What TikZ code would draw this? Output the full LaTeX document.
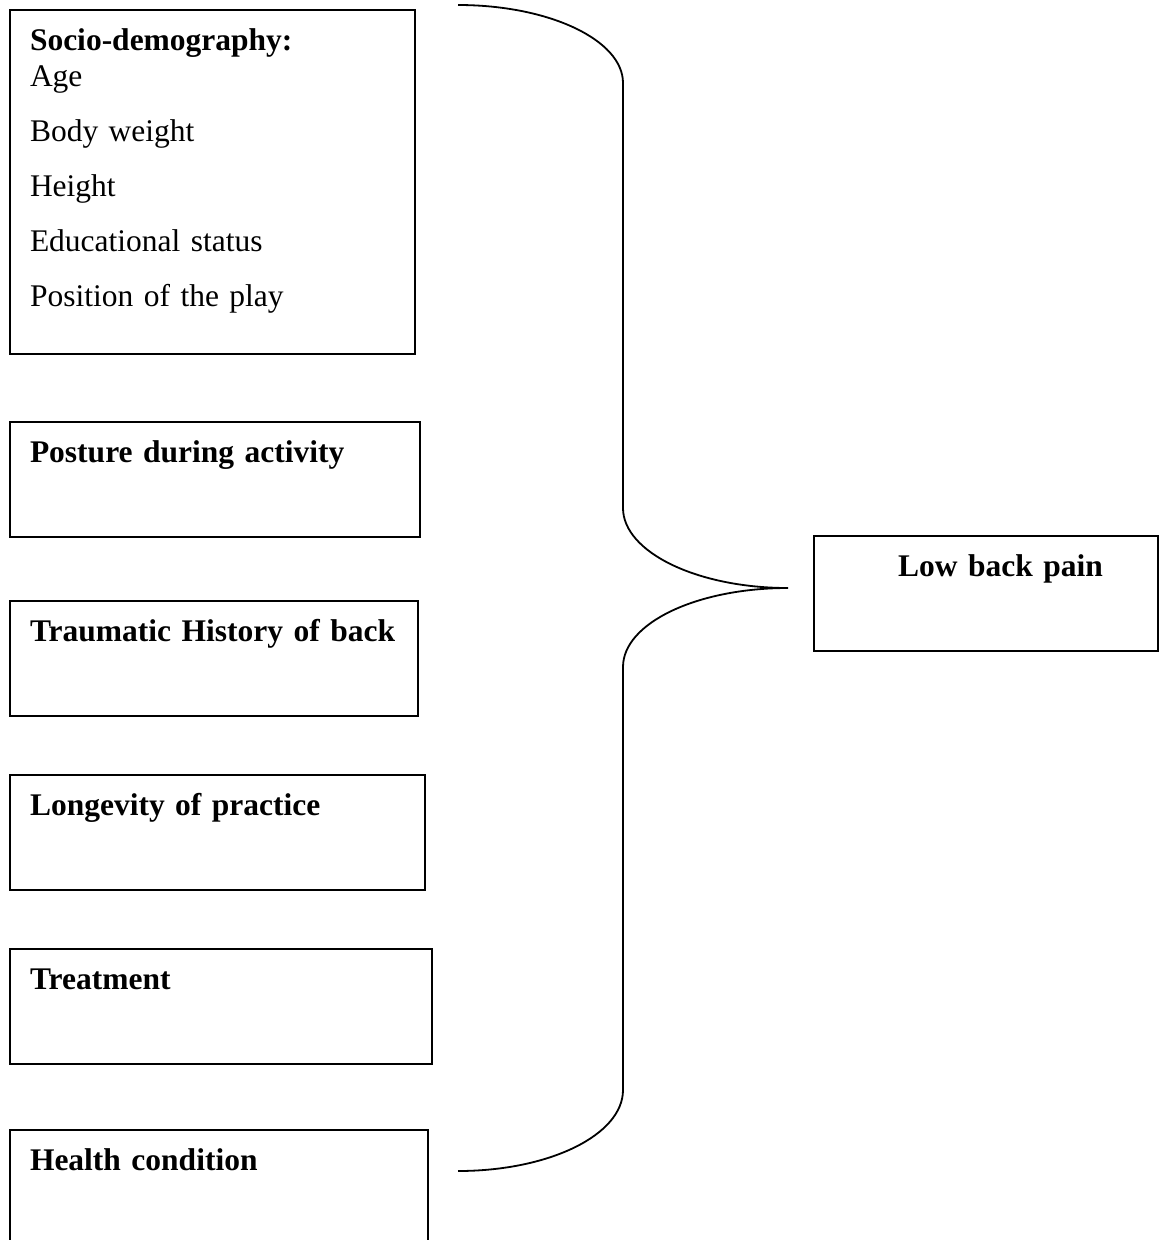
\documentclass[tikz,border=0pt]{standalone}
\usepackage{fontspec}
\setmainfont{Liberation Serif}
\usetikzlibrary{positioning}

\begin{document}
\begin{tikzpicture}[x=1pt,y=-1pt,
		factor/.style={draw, line width=1.5pt, align=left, outer sep=0pt,
		inner xsep=20pt, inner ysep=0pt, text height=40pt, text depth=75pt,
		font=\fontsize{31.5}{36}\selectfont},
		brace/.style={line width=1.8pt}]
		\useasboundingbox (0,0) rectangle (1159,1240);
		\node[factor, anchor=north west, text width=365pt, text depth=304pt] (socio) at (10,10)
			{\textbf{Socio-demography:}\\ Age\\[19pt] Body weight\\[19pt] Height\\[19pt]
			Educational status\\[19pt] Position of the play};
		\node[factor, text width=370pt, below right=68pt and 0pt of socio.south west] (posture)
			{\textbf{Posture during activity}};
		\node[factor, text width=368pt, below right=64pt and 0pt of posture.south west] (trauma)
			{\textbf{Traumatic History of back}};
		\node[factor, text width=375pt, below right=59pt and 0pt of trauma.south west] (longevity)
			{\textbf{Longevity of practice}};
		\node[factor, text width=382pt, below right=59pt and 0pt of longevity.south west] (treatment)
			{\textbf{Treatment}};
		\node[factor, text width=378pt, below right=66pt and 0pt of treatment.south west] (health)
			{\textbf{Health condition}};
		\node[factor, anchor=north west, text width=304pt] (lbp) at (814,536)
			{\hspace*{64pt}\textbf{Low back pain}};
		% brace joining the factors to the outcome
		\coordinate (tip) at (788,588);
		\draw[brace] (458,5) .. controls (549,5) and (623,40) .. (623,83) -- (623,508)
			.. controls (623,552) and (697,588) .. (tip)
			.. controls (697,588) and (623,623) .. (623,667) -- (623,1090)
			.. controls (623,1135) and (549,1171) .. (458,1171);
	\end{tikzpicture}
\end{document}
